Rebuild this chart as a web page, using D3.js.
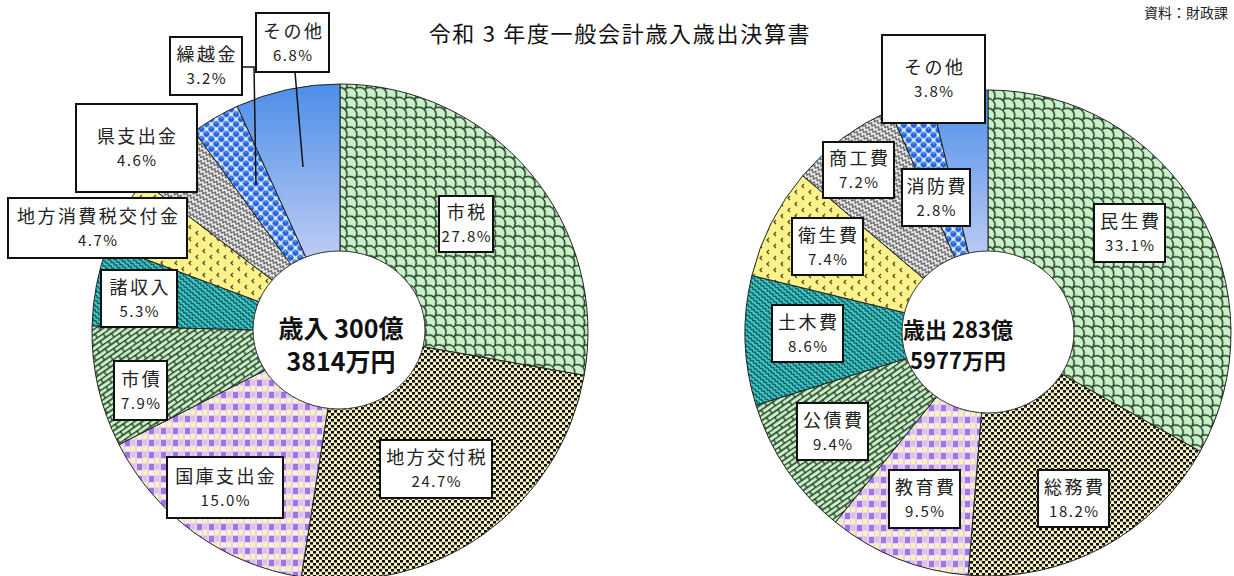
<!DOCTYPE html>
<html><head><meta charset="utf-8">
<script src="https://cdn.jsdelivr.net/npm/d3@7/dist/d3.min.js"></script>
<style>
html,body{margin:0;padding:0;background:#fff;}
svg{display:block;font-family:"Noto Sans CJK JP","Noto Sans",sans-serif;}
</style></head>
<body>
<svg id="c" width="1234" height="576"></svg>
<script>
// ---- data ----
const titleText = "令和 3 年度一般会計歳入歳出決算書";
const sourceText = "資料：財政課";
const revenueLabels = ["市税","地方交付税","国庫支出金","市債","諸収入","地方消費税交付金","県支出金","繰越金","その他"];
const revenueValues = [27.8, 24.7, 15.0, 7.9, 5.3, 4.7, 4.6, 3.2, 6.8];
const revenueCenter = ["歳入 300億", "3814万円"];
const expenseLabels = ["民生費","総務費","教育費","公債費","土木費","衛生費","商工費","消防費","その他"];
const expenseValues = [33.1, 18.2, 9.5, 9.4, 8.6, 7.4, 7.2, 2.8, 3.8];
const expenseCenter = ["歳出 283億", "5977万円"];

// ---- layout (label boxes: x, y, w, h) ----
const revenueBoxes = [[439,196,54,56],[380,440,112,58],[167,457,116,61],[114,361,53,59],[101,270,76,57],[8,198,179,60],[76,104,121,88],[170,37,72,58],[256,13,73,59]];
const expenseBoxes = [[1094,204,71,58],[1038,470,71,57],[889,470,71,58],[797,403,71,57],[772,305,71,57],[792,218,71,57],[823,142,71,56],[902,169,68,57],[882,35,103,88]];
const revenueLeaders = [null,null,null,null,null,null,null,[[242,67],[254,67],[256,185]],[[295,72],[303,167]]];
const expenseLeaders = [null,null,null,null,null,null,null,null,null];

const svg = d3.select("#c");
const defs = svg.append("defs");

function pat(id, w, h, bg, rot, draw){
  const p = defs.append("pattern").attr("id", id).attr("patternUnits","userSpaceOnUse")
    .attr("width", w).attr("height", h);
  if (rot) p.attr("patternTransform", `rotate(${rot})`);
  p.append("rect").attr("width", w).attr("height", h).attr("fill", bg);
  draw(p);
}
// fish-scale (green)
pat("pScale", 14, 14, "#c9f1c9", 45, p => {
  p.append("path").attr("d","M0,7 A7,7 0 0 1 14,7 M-7,14 A7,7 0 0 1 7,14 M7,14 A7,7 0 0 1 21,14 M-7,0 A7,7 0 0 1 7,0 M7,0 A7,7 0 0 1 21,0")
   .attr("fill","none").attr("stroke","#1d351d").attr("stroke-width",1.4);
});
// dense dots (yellow)
pat("pDots", 6, 6, "#f6f1c2", 0, p => {
  p.append("rect").attr("x",0).attr("y",0).attr("width",3).attr("height",2.6).attr("fill","#111");
  p.append("rect").attr("x",3).attr("y",3).attr("width",3).attr("height",2.6).attr("fill","#111");
});
// checker (lavender)
pat("pCheck", 12, 12, "#e2d2f2", 0, p => {
  p.append("rect").attr("x",1).attr("y",0).attr("width",5).attr("height",6).attr("fill","#a472e6");
  p.append("rect").attr("x",7).attr("y",6).attr("width",4).attr("height",5).attr("fill","#fff1b2");
  p.append("rect").attr("x",7).attr("y",0).attr("width",4).attr("height",5).attr("fill","#d8c0f0");
  p.append("rect").attr("x",1).attr("y",7).attr("width",5).attr("height",4).attr("fill","#fbf0d8");
});
// brick (green)
pat("pBrick", 14, 9, "#c8f0c8", -35, p => {
  p.append("path").attr("d","M0,0.6 H14 M0,5 H14 M1,0.6 V5 M8,5 V9")
   .attr("fill","none").attr("stroke","#1d351d").attr("stroke-width",1.3);
});
// weave (cyan)
pat("pWeave", 8, 8, "#3fd3d3", 40, p => {
  p.append("path").attr("d","M0,2 L2,0 L4,2 L6,0 L8,2 M0,6 L2,4 L4,6 L6,4 L8,6")
   .attr("fill","none").attr("stroke","#0e3f42").attr("stroke-width",1.2);
});
// chevrons (yellow)
pat("pChev", 14, 12, "#faf38c", 0, p => {
  p.append("path").attr("d","M5,1 L3,3 L5,5 M12,7 L10,9 L12,11")
   .attr("fill","none").attr("stroke","#5a4a1e").attr("stroke-width",1.3);
});
// wave (gray)
pat("pWave", 8, 5, "#f0f0f0", 30, p => {
  p.append("path").attr("d","M0,4 L2,1 L4,4 L6,1 L8,4")
   .attr("fill","none").attr("stroke","#4a4a4a").attr("stroke-width",1.1);
});
// bubbles (blue)
pat("pBubble", 7, 7, "#dfeaff", 45, p => {
  p.append("circle").attr("cx",3.5).attr("cy",3.5).attr("r",3).attr("fill","#1f62dc");
  p.append("circle").attr("cx",2.6).attr("cy",2.6).attr("r",0.9).attr("fill","#7fb0ff");
});
// gradient (その他)
const g = defs.append("linearGradient").attr("id","gOther").attr("x1",0).attr("y1",0).attr("x2",0).attr("y2",1);
g.append("stop").attr("offset","0%").attr("stop-color","#4c8ee9");
g.append("stop").attr("offset","100%").attr("stop-color","#efe6f8");

const fills = ["url(#pScale)","url(#pDots)","url(#pCheck)","url(#pBrick)","url(#pWeave)","url(#pChev)","url(#pWave)","url(#pBubble)","url(#gOther)"];

function donut(cfg){
  const gg = svg.append("g").attr("transform", `translate(${cfg.cx},${cfg.cy})`);
  const pie = d3.pie().sort(null).value(d => d)(cfg.values);
  const arc = d3.arc().innerRadius(0).outerRadius(cfg.r);
  gg.selectAll("path.s").data(pie).join("path").attr("class","s")
    .attr("d", arc).attr("fill", (d,i) => fills[i])
    .attr("stroke","#222").attr("stroke-width",1);
  gg.append("ellipse").attr("cx", cfg.ix).attr("cy", cfg.iy).attr("rx", cfg.rx).attr("ry", cfg.ry)
    .attr("fill","#fff").attr("stroke","#333").attr("stroke-width",1);
  // center text
  cfg.center.forEach((t,i) => {
    svg.append("text").attr("x", cfg.tx).attr("y", cfg.ty + i*cfg.tdy)
      .attr("text-anchor","middle").attr("font-size", cfg.tsize).attr("font-weight","bold")
      .attr("fill","#111").text(t);
  });
  // leaders
  cfg.leaders.forEach(l => {
    if (!l) return;
    svg.append("path").attr("d", d3.line()(l)).attr("fill","none").attr("stroke","#111").attr("stroke-width",1.5);
  });
  // labels
  cfg.labels.forEach((lab,i) => {
    const [x,y,w,h] = cfg.boxes[i];
    svg.append("rect").attr("x",x).attr("y",y).attr("width",w).attr("height",h)
      .attr("fill","#fff").attr("stroke","#111").attr("stroke-width",2);
    const mid = y + h/2;
    svg.append("text").attr("x", x + w/2 + 1.2).attr("y", mid - 11).attr("dy","0.35em")
      .attr("text-anchor","middle").attr("font-size",18).attr("letter-spacing",2.4).attr("fill","#222").text(lab);
    svg.append("text").attr("x", x + w/2 + 0.8).attr("y", mid + 13).attr("dy","0.35em")
      .attr("text-anchor","middle").attr("font-size",15).attr("letter-spacing",1.5).attr("fill","#222")
      .text(d3.format(".1f")(cfg.values[i]) + "%");
  });
}

donut({cx:340, cy:332, r:248, ix:-1, iy:-2, rx:86, ry:79, values:revenueValues, labels:revenueLabels,
  boxes:revenueBoxes, leaders:revenueLeaders, center:revenueCenter, tx:341, ty:338, tdy:33, tsize:25});
donut({cx:988, cy:333, r:243, ix:0, iy:-1, rx:86, ry:81, values:expenseValues, labels:expenseLabels,
  boxes:expenseBoxes, leaders:expenseLeaders, center:expenseCenter, tx:958, ty:338, tdy:31, tsize:22});

svg.append("text").attr("x",620).attr("y",42).attr("text-anchor","middle").attr("font-size",22)
  .attr("letter-spacing",1.7).attr("fill","#111").text(titleText);
svg.append("text").attr("x",1228).attr("y",18).attr("text-anchor","end").attr("font-size",14).attr("fill","#222").text(sourceText);
</script>
</body></html>
